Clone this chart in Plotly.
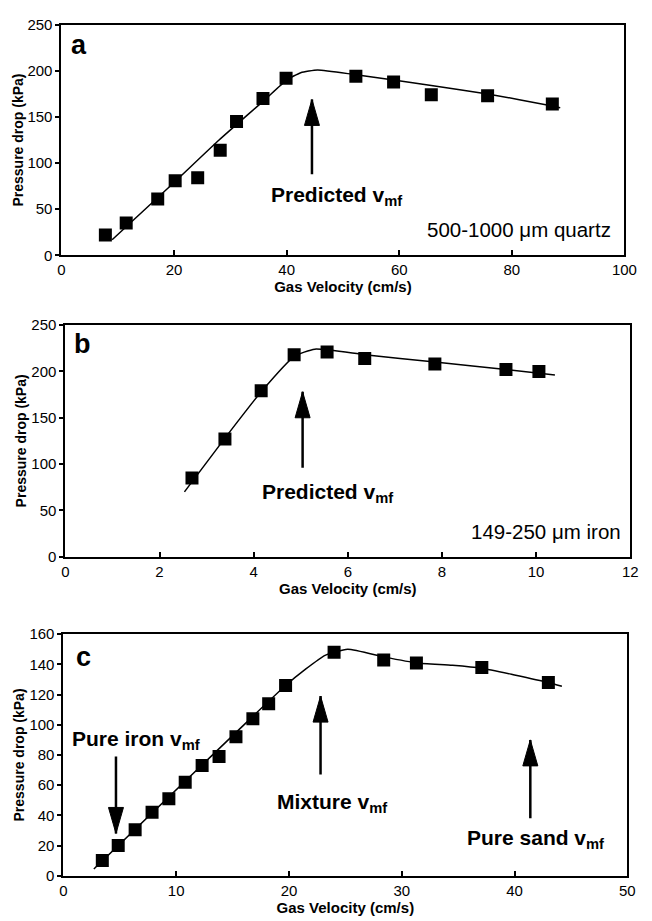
import plotly.graph_objects as go

# ---------------- data ----------------
# Panel a: 500-1000 um quartz
a_velocity = [7.8, 11.5, 17.1, 20.2, 24.2, 28.2, 31.1, 35.8, 39.9, 52.3, 59.0, 65.7, 75.7, 87.2]
a_pressure = [22, 35, 61, 81, 84, 114, 145, 170, 192, 194, 188, 174, 173, 164]
a_fit_velocity = [9.0, 20.0, 28.0, 36.0, 40.0, 42.5, 45.5, 52.0, 59.0, 65.7, 75.7, 87.2, 88.6]
a_fit_pressure = [17, 79, 125, 168, 190, 198, 201, 196, 190, 184, 175, 162, 160]

# Panel b: 149-250 um iron
b_velocity = [2.69, 3.39, 4.16, 4.86, 5.56, 6.36, 7.85, 9.36, 10.06]
b_pressure = [85, 127, 179, 218, 221, 214, 208, 202, 200]
b_fit_velocity = [2.53, 3.39, 4.16, 4.86, 5.3, 6.36, 7.85, 9.36, 10.4]
b_fit_pressure = [70, 128, 178, 216, 224, 218, 210, 202, 196]

# Panel c: iron/sand mixture
c_velocity = [3.45, 4.86, 6.36, 7.86, 9.35, 10.8, 12.3, 13.8, 15.3, 16.8, 18.2, 19.7,
              24.0, 28.4, 31.3, 37.1, 43.0]
c_pressure = [10, 20, 30.5, 42, 51, 62, 73, 79, 92, 104, 114, 126,
              148, 143, 141, 138, 128]
c_fit_velocity = [2.7, 19.7, 21.5, 23.2, 25.2, 28.4, 31.3, 34.5, 37.1, 40.0, 43.0, 44.2]
c_fit_pressure = [4.4, 126, 137, 146, 150, 145, 141, 139.5, 137.5, 133, 128, 125.5]

# axis ranges / ticks
a_xrange, a_yrange = [0, 100], [0, 250]
b_xrange, b_yrange = [0, 12], [0, 250]
c_xrange, c_yrange = [0, 50], [0, 160]
a_xticks, a_yticks = [0, 20, 40, 60, 80, 100], [0, 50, 100, 150, 200, 250]
b_xticks, b_yticks = [0, 2, 4, 6, 8, 10, 12], [0, 50, 100, 150, 200, 250]
c_xticks, c_yticks = [0, 10, 20, 30, 40, 50], [0, 20, 40, 60, 80, 100, 120, 140, 160]

x_title = "Gas Velocity (cm/s)"
y_title = "Pressure drop (kPa)"

# ---------------- figure ----------------
W, H = 652, 921
FONT = "Liberation Sans, Arial, Helvetica, sans-serif"

fig = go.Figure()

panels = [
    ("x", "y", a_velocity, a_pressure, a_fit_velocity, a_fit_pressure),
    ("x2", "y2", b_velocity, b_pressure, b_fit_velocity, b_fit_pressure),
    ("x3", "y3", c_velocity, c_pressure, c_fit_velocity, c_fit_pressure),
]
for xa, ya, vx, vy, fx, fy in panels:
    fig.add_trace(go.Scatter(x=fx, y=fy, xaxis=xa, yaxis=ya, mode="lines",
                             line=dict(color="black", width=1.5, shape="spline", smoothing=0.5),
                             showlegend=False, hoverinfo="skip"))
    fig.add_trace(go.Scatter(x=vx, y=vy, xaxis=xa, yaxis=ya, mode="markers",
                             marker=dict(symbol="square", size=13, color="black"),
                             showlegend=False))


def px_dom_x(l, r):
    return [l / W, r / W]


def px_dom_y(bottom, top):
    return [1 - bottom / H, 1 - top / H]


def xaxis_style(rng, ticks, dom, anchor):
    return dict(range=rng, tickvals=ticks, domain=dom, anchor=anchor,
                showline=True, mirror=True, linecolor="black", linewidth=2,
                ticks="inside", ticklen=5, tickwidth=2, tickcolor="black",
                showgrid=False, zeroline=False,
                tickfont=dict(family=FONT, size=15, color="black"),
                title=dict(text=x_title, font=dict(family=FONT, size=15, color="black", weight="bold"),
                           standoff=2))


def yaxis_style(rng, ticks, dom, anchor):
    return dict(range=rng, tickvals=ticks, domain=dom, anchor=anchor,
                showline=True, mirror=True, linecolor="black", linewidth=2,
                ticks="outside", ticklen=4, tickwidth=1.5, tickcolor="black",
                showgrid=False, zeroline=False,
                tickfont=dict(family=FONT, size=15, color="black"),
                title=dict(text=y_title, font=dict(family=FONT, size=14, color="black", weight="bold"),
                           standoff=1))


fig.update_layout(
    width=W, height=H,
    margin=dict(l=0, r=0, t=0, b=0),
    paper_bgcolor="white", plot_bgcolor="white",
    font=dict(family=FONT, color="black"),
    xaxis=xaxis_style(a_xrange, a_xticks, px_dom_x(59, 637), "y"),
    yaxis=yaxis_style(a_yrange, a_yticks, px_dom_y(251, 16), "x"),
    xaxis2=xaxis_style(b_xrange, b_xticks, px_dom_x(63, 643), "y2"),
    yaxis2=yaxis_style(b_yrange, b_yticks, px_dom_y(558, 322), "x2"),
    xaxis3=xaxis_style(c_xrange, c_xticks, px_dom_x(61, 640), "y3"),
    yaxis3=yaxis_style(c_yrange, c_yticks, px_dom_y(883, 637), "x3"),
)

BOLD = dict(family=FONT, size=21, color="black", weight="bold")
REG = dict(family=FONT, size=20.5, color="black")
LETTER = dict(family=FONT, size=27, color="black", weight="bold")

annotations = []
shapes = []


def text(xr, yr, x, y, s, font):
    annotations.append(dict(xref=xr, yref=yr, x=x, y=y, text=s, showarrow=False,
                            xanchor="left", yanchor="middle", font=font))


def arrow(xr, yr, x, y_tail, y_tip):
    # shaft
    shapes.append(dict(type="line", xref=xr, yref=yr, x0=x, x1=x, y0=y_tail, y1=y_tip,
                       line=dict(color="black", width=2.5)))
    # head: narrow, long triangle sized in pixels, anchored at the tip
    d = 1 if y_tip > y_tail else -1
    shapes.append(dict(type="path", xref=xr, yref=yr, xsizemode="pixel", ysizemode="pixel",
                       xanchor=x, yanchor=y_tip,
                       path=f"M 0 0 L -7.5 {-26 * d} L 7.5 {-26 * d} Z",
                       fillcolor="black", line=dict(color="black", width=1)))


# panel a
text("x", "y", 1.3, 228, "a", LETTER)
text("x", "y", 36.9, 64, "Predicted v<sub>mf</sub>", BOLD)
text("x", "y", 64.5, 28, "500-1000 \u03bcm quartz", REG)
arrow("x", "y", 44.5, 88, 169)

# panel b
text("x2", "y2", 0.15, 230, "b", LETTER)
text("x2", "y2", 4.13, 69, "Predicted v<sub>mf</sub>", BOLD)
text("x2", "y2", 8.57, 27.5, "149-250 \u03bcm iron", REG)
arrow("x2", "y2", 5.04, 96, 178)

# panel c
text("x3", "y3", 0.9, 145, "c", LETTER)
text("x3", "y3", 0.6, 90, "Pure iron v<sub>mf</sub>", BOLD)
text("x3", "y3", 18.74, 48, "Mixture v<sub>mf</sub>", BOLD)
text("x3", "y3", 35.6, 24, "Pure sand v<sub>mf</sub>", BOLD)
arrow("x3", "y3", 4.66, 79, 28)
arrow("x3", "y3", 22.8, 67, 119)
arrow("x3", "y3", 41.4, 38, 90)

fig.update_layout(annotations=annotations, shapes=shapes)

fig.write_html("out.html")
